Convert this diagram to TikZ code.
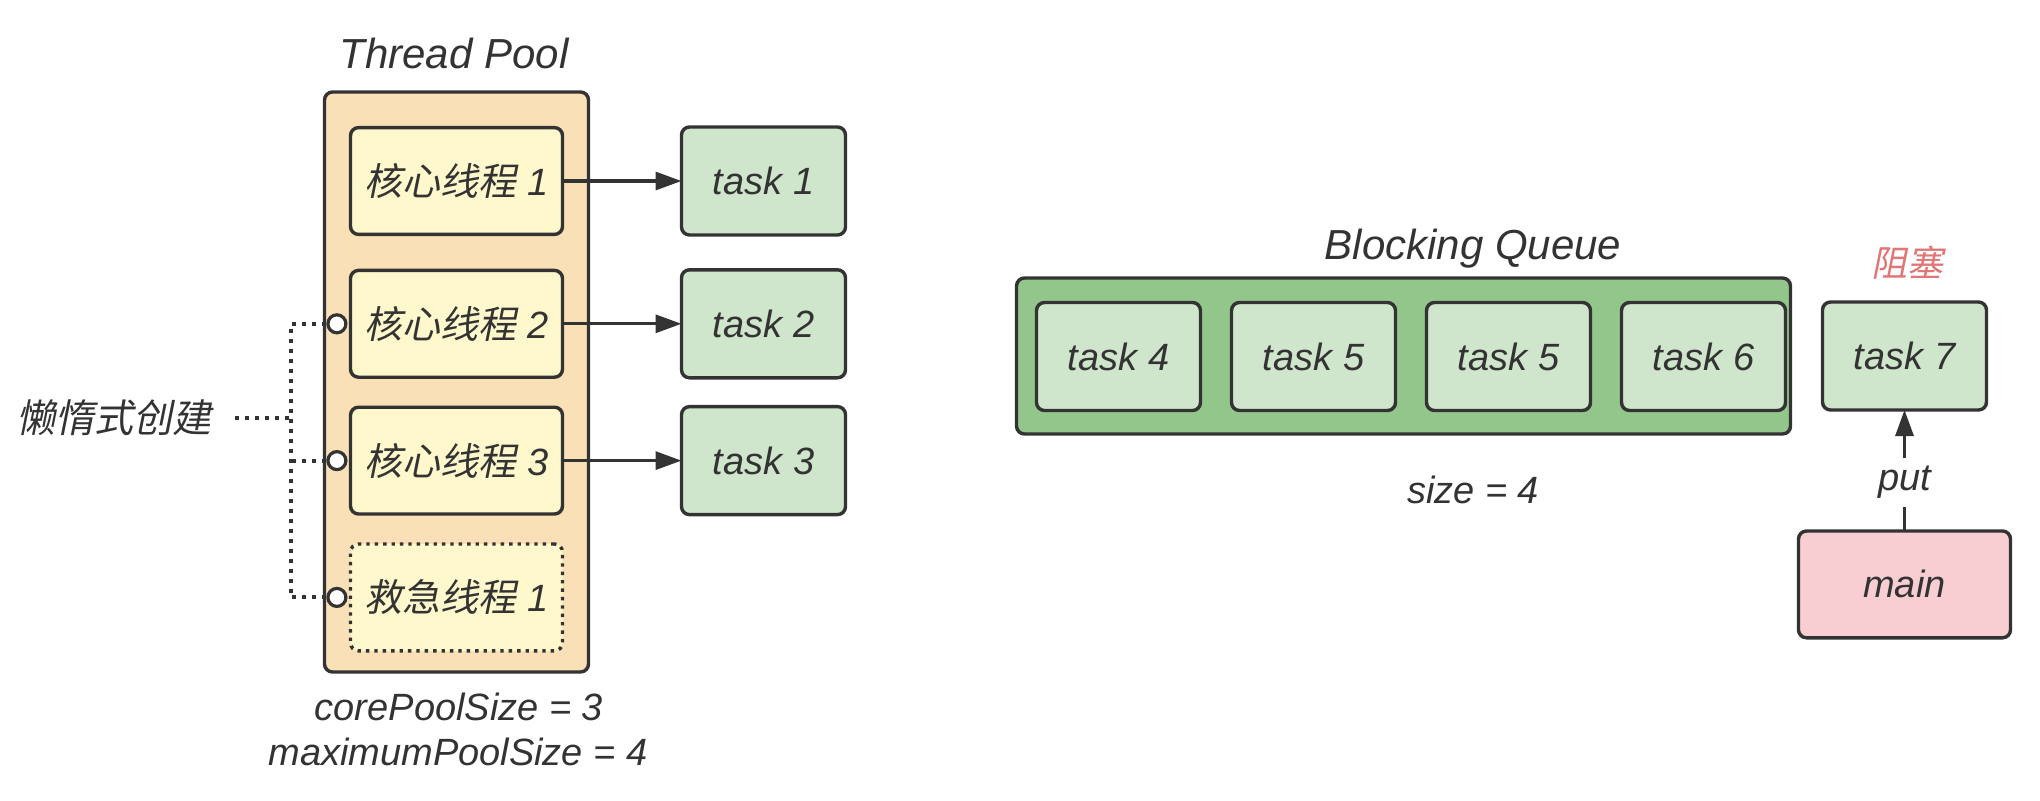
\documentclass[tikz,border=0pt]{standalone}
\usepackage{fontspec}
\setmainfont{Liberation Sans}
\newfontfamily\cjk{Noto Sans CJK SC}[FakeSlant=0.2]
\usetikzlibrary{arrows.meta,positioning}

\definecolor{ink}{HTML}{333333}
\definecolor{poolfill}{HTML}{F9E0B7}
\definecolor{threadfill}{HTML}{FFF8CC}
\definecolor{taskfill}{HTML}{D0E6CC}
\definecolor{queuefill}{HTML}{93C68B}
\definecolor{mainfill}{HTML}{F8CED3}
\definecolor{warn}{HTML}{E07676}

\begin{document}
\begin{tikzpicture}[x=0.5pt,y=-0.5pt,>={Triangle[length=13pt,width=9pt]},
	color=ink,font=\fontsize{19}{22}\selectfont\itshape]
	\tikzstyle{box}=[draw,rounded corners=4pt,line width=1.7pt,outer sep=0pt]
	\tikzstyle{thread}=[box,fill=threadfill,minimum width=106pt,minimum height=53.4pt]
	\tikzstyle{task}=[box,fill=taskfill,minimum width=82pt,minimum height=54pt]
	\tikzstyle{port}=[circle,draw,fill=white,line width=1.6pt,minimum size=9pt,inner sep=0pt]
	\tikzstyle{dotline}=[line width=2pt,dash pattern=on 2pt off 3pt]
	\tikzstyle{flow}=[->,line width=1.6pt]
	\tikzstyle{title}=[font=\fontsize{21}{24}\selectfont\itshape]
	\useasboundingbox (0,0) rectangle (2040,800);
	
	% thread pool
	\node[box,fill=poolfill,minimum width=132pt,minimum height=290pt] (pool) at (456.5,382) {};
	\node[title,anchor=base] (pooltitle) at (454,68) {Thread Pool};
	\node[thread] (c1) at (456.5,181) {{\cjk 核心线程} 1};
	\node[thread] (c2) [below=18pt of c1] {{\cjk 核心线程} 2};
	\node[thread] (c3) [below=15pt of c2] {{\cjk 核心线程} 3};
	\node[thread,dash pattern=on 1.7pt off 2.5pt] (e1) [below=15pt of c3] {{\cjk 救急线程} 1};
	\node[anchor=base] (core) at (459,720) {corePoolSize = 3};
	\node[anchor=base] (max) at (458,765) {maximumPoolSize = 4};
	
	\node[task] (t1) [right=59.5pt of c1] {task 1};
	\node[task] (t2) [right=59.5pt of c2] {task 2};
	\node[task] (t3) [right=59.5pt of c3] {task 3};
	
	% lazy creation
	\node[port] (p2) [left=1.5pt of c2.west] {};
	\node[port] (p3) [left=1.5pt of c3.west] {};
	\node[port] (p4) [left=1.5pt of e1.west] {};
	\node[font=\fontsize{19.5}{22}\selectfont\cjk,anchor=east,inner sep=0pt] (lazy) at (212,418) {懒惰式创建};
	\coordinate (bus) at (291,418);
	
	% blocking queue
	\node[box,fill=queuefill,minimum width=387pt,minimum height=78pt] (queue) at (1403.5,356) {};
	\node[title,anchor=base] (queuetitle) at (1473,259) {Blocking Queue};
	\node[task] (q1) at (1118.5,356.5) {task 4};
	\node[task] (q2) [right=15.5pt of q1] {task 5};
	\node[task] (q3) [right=15.5pt of q2] {task 5};
	\node[task] (q4) [right=15.5pt of q3] {task 6};
	\node[anchor=base] (size) at (1473,503) {size = 4};
	
	\node[task] (t7) [right=16pt of queue] {task 7};
	\node[font=\fontsize{18}{21}\selectfont\cjk,text=warn] (block) at (1907,263) {阻塞};
	\node[box,fill=mainfill,minimum width=106pt,minimum height=53.4pt] (main) [below=60.5pt of t7] {main};
	
	\path
	(c1) edge[flow] (t1)
	(c2) edge[flow] (t2)
	(c3) edge[flow] (t3)
	(main) edge[flow] node[fill=white,pos=0.4,inner sep=4pt] {put} (t7)
	;
	\draw[dotline] (p2.west) -| (bus) |- (p4.west);
	\draw[dotline] (p3.west) -- (p3.west -| bus);
	\draw[dotline,shorten <=11.5pt] (lazy.east) -- (bus);
\end{tikzpicture}
\end{document}
